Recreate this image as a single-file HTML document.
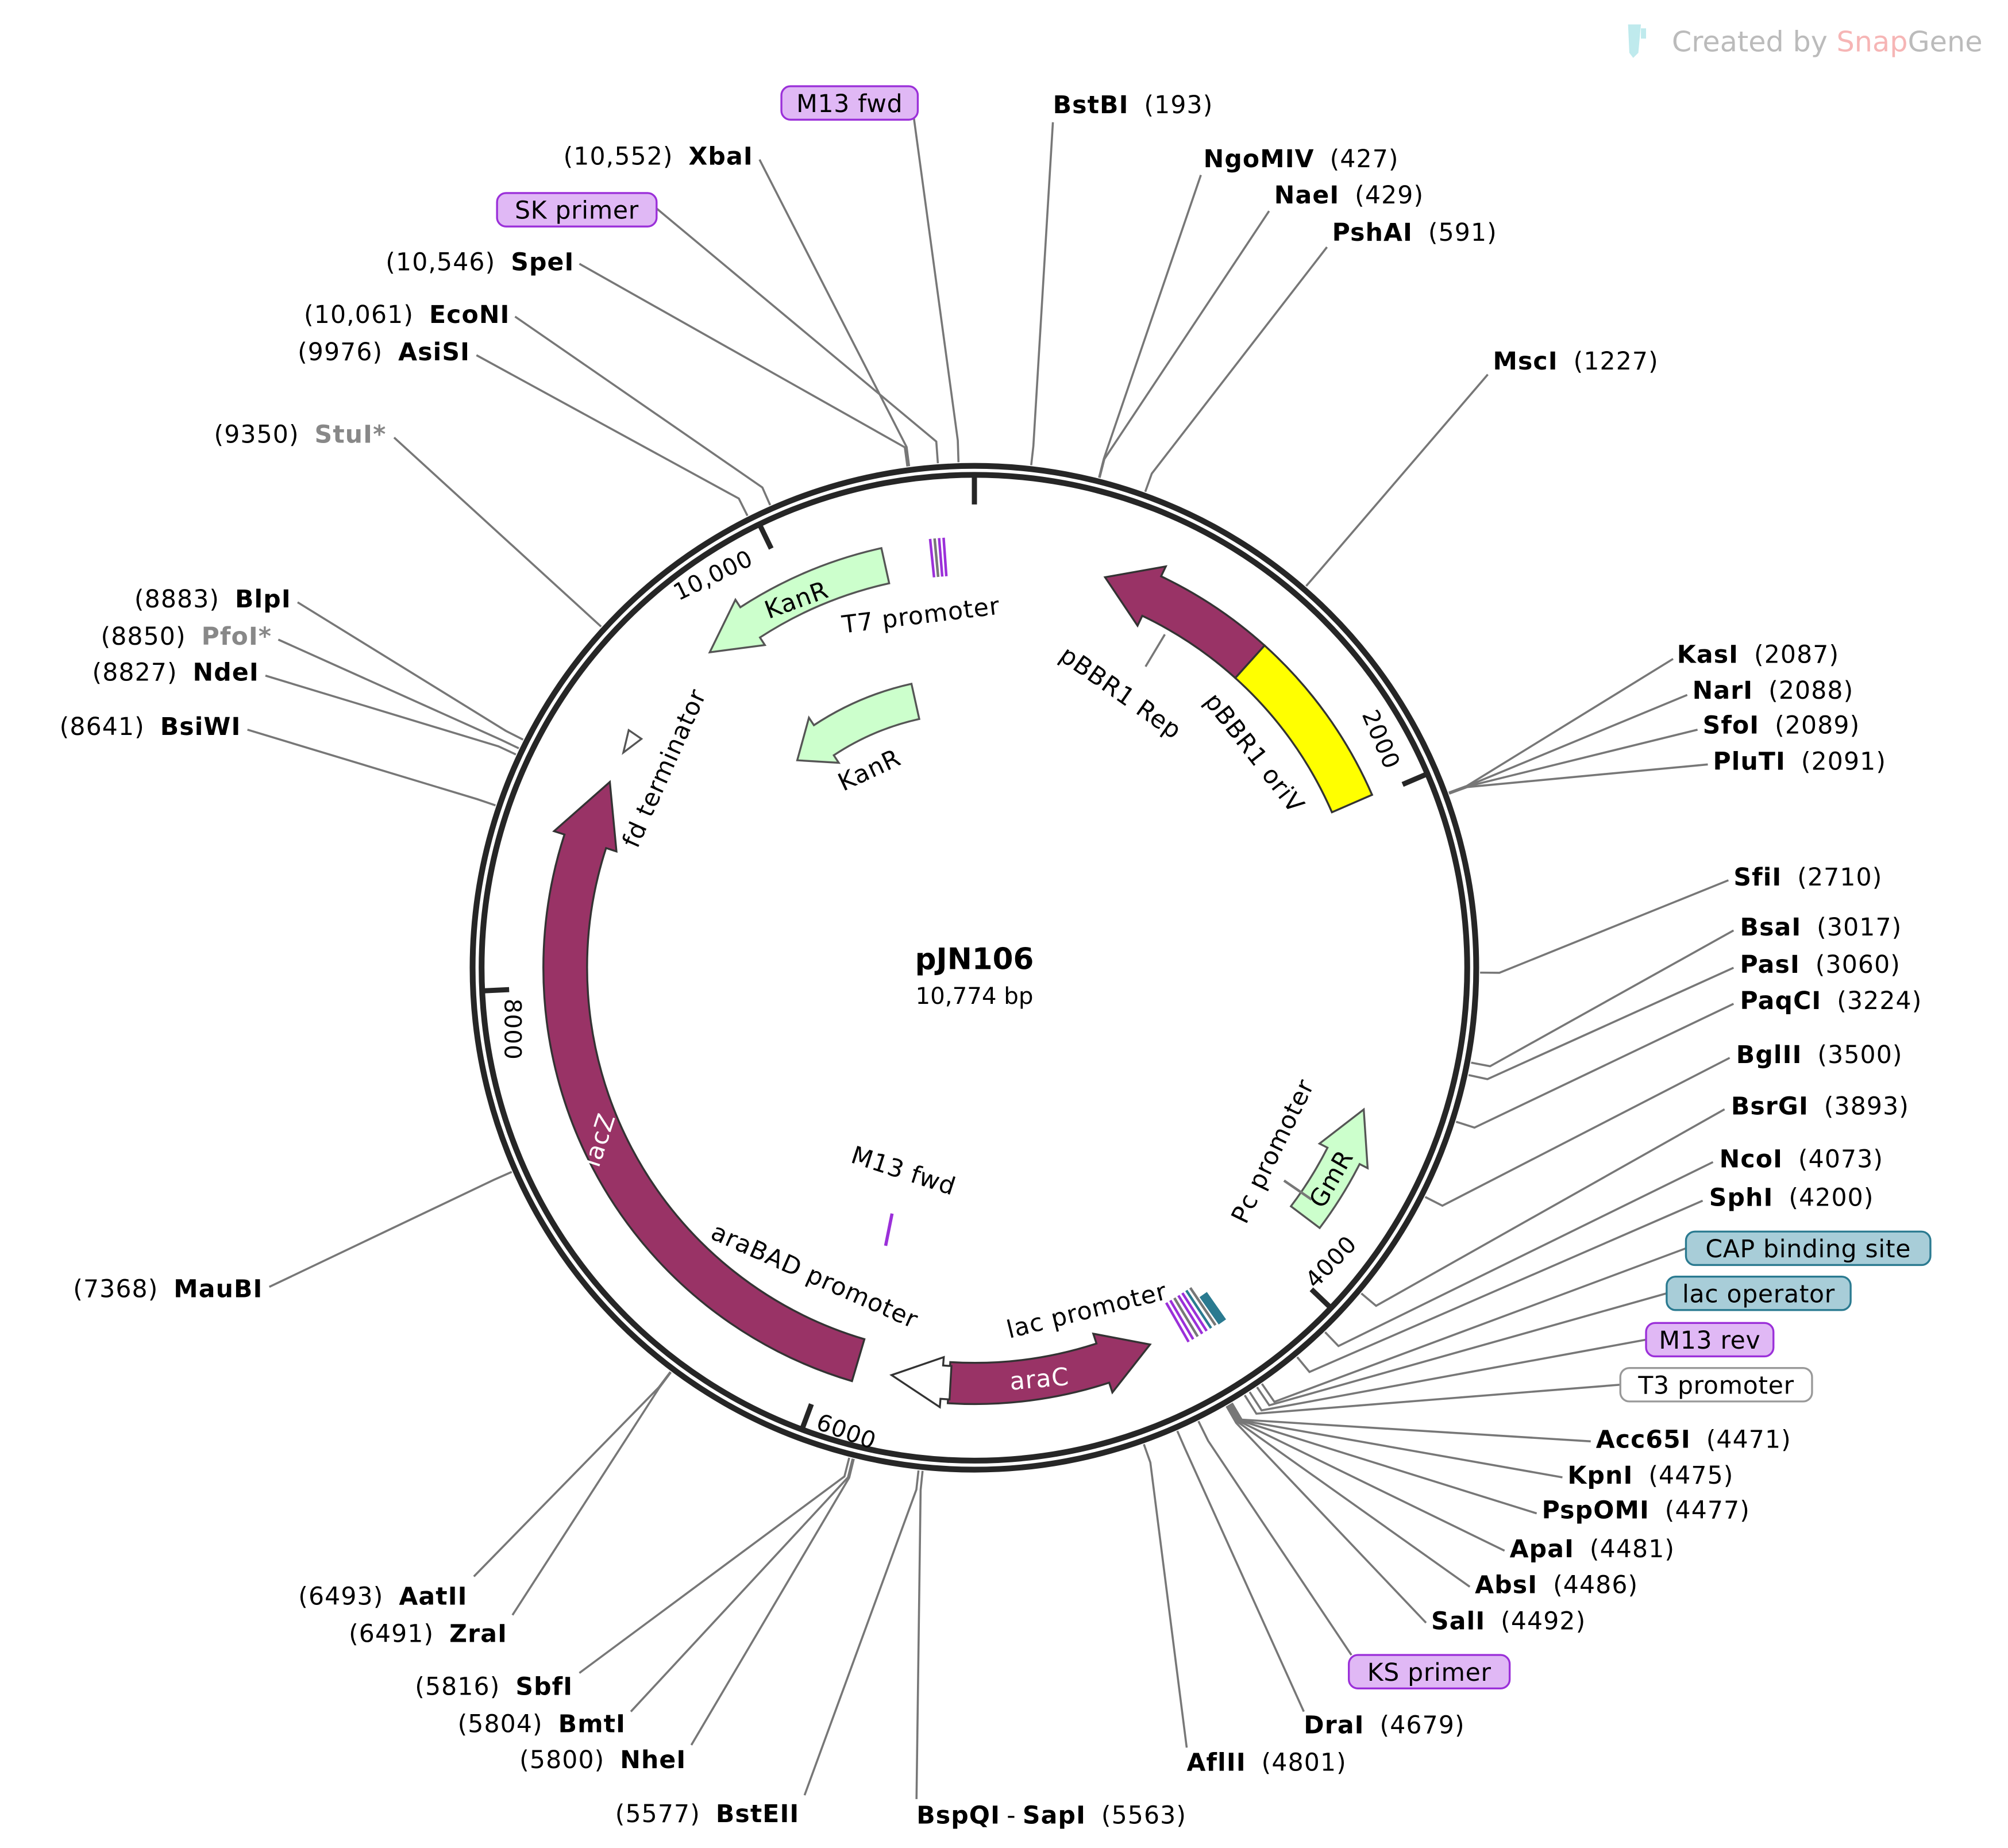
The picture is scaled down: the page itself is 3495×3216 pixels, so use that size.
<!DOCTYPE html>
<html><head><meta charset="utf-8">
<style>
html,body{margin:0;padding:0;background:#fff;}
svg{display:block;}
text{font-family:"DejaVu Sans","Liberation Sans",sans-serif;}
#txt text{letter-spacing:0.5px;}
</style></head>
<body>
<svg id="s" xmlns="http://www.w3.org/2000/svg" width="3495" height="3216" viewBox="0 0 1560 1436">
<rect width="1560" height="1436" fill="#fff"/>
<g id="lines" stroke="#777" stroke-width="1.6" fill="none"></g>
<circle cx="757" cy="752" r="390" fill="none" stroke="#262626" stroke-width="4.5"/>
<circle cx="757" cy="752" r="383" fill="none" stroke="#262626" stroke-width="4.5"/>
<g id="feat"></g>
<g id="txt" font-size="19" fill="#000"></g>
<text x="757" y="753" font-size="23" font-weight="bold" text-anchor="middle">pJN106</text>
<text x="757" y="780" font-size="18" text-anchor="middle">10,774 bp</text>
<g font-size="22" fill="#bbb">
<path d="M1265 19 h10 l-2 22 l-4 4 l-3-4z" fill="#bfeaed"/><rect x="1275" y="22" width="4" height="8" fill="#bfeaed"/>
<text x="1299" y="40">Created by <tspan fill="#f6b5b5">Snap</tspan>Gene</text>
</g>
</svg>
<script>
const NS="http://www.w3.org/2000/svg",CX=757,CY=752,L=10774;
function pt(bp,r){const a=bp/L*2*Math.PI;return [CX+r*Math.sin(a),CY-r*Math.cos(a)];}
function ptA(a,r){a=a*Math.PI/180;return [CX+r*Math.sin(a),CY-r*Math.cos(a)];}
function el(tag,at,parent,txt){const e=document.createElementNS(NS,tag);for(const k in at)e.setAttribute(k,at[k]);if(txt!==undefined)e.textContent=txt;document.getElementById(parent).appendChild(e);return e;}
const R=[
[193,818,95,'r','BstBI','(193)',818,88],
[427,933,136,'r','NgoMIV','(427)',935,130],
[429,986,164,'r','NaeI','(429)',990,158],
[591,1031,192,'r','PshAI','(591)',1035,187],
[1227,1156,291,'r','MscI','(1227)',1160,287],
[2087,1300,512,'r','KasI','(2087)',1303,515],
[2088,1311,540,'r','NarI','(2088)',1315,543],
[2089,1319,567,'r','SfoI','(2089)',1323,570],
[2091,1327,594,'r','PluTI','(2091)',1331,598],
[2710,1343,684,'r','SfiI','(2710)',1347,688],
[3017,1347,723,'r','BsaI','(3017)',1352,727],
[3060,1347,752,'r','PasI','(3060)',1352,756],
[3224,1347,780,'r','PaqCI','(3224)',1352,784],
[3500,1344,822,'r','BglII','(3500)',1349,826],
[3893,1340,862,'r','BsrGI','(3893)',1345,866],
[4073,1331,903,'r','NcoI','(4073)',1336,907],
[4200,1323,933,'r','SphI','(4200)',1328,937],
[4471,1236,1120,'r','Acc65I','(4471)',1240,1125],
[4475,1214,1148,'r','KpnI','(4475)',1218,1153],
[4477,1194,1176,'r','PspOMI','(4477)',1198,1180],
[4481,1169,1205,'r','ApaI','(4481)',1173,1210],
[4486,1142,1233,'r','AbsI','(4486)',1146,1238],
[4492,1108,1261,'r','SalI','(4492)',1112,1266],
[4679,1013,1330,'r','DraI','(4679)',1013,1347],
[4801,922,1358,'r','AflII','(4801)',922,1376],
[5563,712,1398,'r','BspQI - SapI','(5563)',712,1417],
[10552,590,124,'l','XbaI','(10,552)',585,128],
[10546,450,205,'l','SpeI','(10,546)',446,210],
[10061,400,246,'l','EcoNI','(10,061)',396,251],
[9976,370,276,'l','AsiSI','(9976)',365,280],
[9350,306,340,'l','StuI*','(9350)',300,344,1],
[8883,231,468,'l','BlpI','(8883)',226,472],
[8850,216,497,'l','PfoI*','(8850)',211,501,1],
[8827,206,525,'l','NdeI','(8827)',201,529],
[8641,192,567,'l','BsiWI','(8641)',187,571],
[7368,209,1000,'l','MauBI','(7368)',204,1008],
[6493,368,1225,'l','AatII','(6493)',363,1247],
[6491,398,1255,'l','ZraI','(6491)',394,1276],
[5816,450,1300,'l','SbfI','(5816)',445,1317],
[5804,490,1330,'l','BmtI','(5804)',486,1346],
[5800,537,1356,'l','NheI','(5800)',533,1374],
[5577,625,1395,'l','BstEII','(5577)',621,1416]
];
for(const e of R){
 const a=pt(e[0],393),b=pt(e[0],408);
 el('polyline',{points:`${a} ${b} ${e[1]},${e[2]}`},'lines');
 const col=e[8]?'#888':'#000';
 if(e[3]=='r'){
  const t=el('text',{x:e[6],y:e[7]},'txt');
  if(e[4]=='BspQI - SapI'){t.innerHTML='<tspan font-weight="bold">BspQI</tspan><tspan dx="5">-</tspan><tspan dx="5" font-weight="bold">SapI</tspan><tspan dx="12">'+e[5]+'</tspan>';}
  else t.innerHTML=`<tspan font-weight="bold" fill="${col}">${e[4]}</tspan><tspan dx="12">${e[5]}</tspan>`;
 } else {
  const t=el('text',{x:e[6],y:e[7],'text-anchor':'end'},'txt');
  t.innerHTML=`<tspan>${e[5]}</tspan><tspan dx="12" font-weight="bold" fill="${col}">${e[4]}</tspan>`;
 }
}
const B=[
[10650,'SK primer',386,150,124,'#e0b8f5','#9b30d9',510,162],
[10720,'M13 fwd',607,67,106,'#e0b8f5','#9b30d9',710,92],
[4350,'CAP binding site',1310,957,190,'#a8cdd8','#2a7a90',1310,970],
[4370,'lac operator',1295,992,143,'#a8cdd8','#2a7a90',1295,1005],
[4400,'M13 rev',1279,1028,99,'#e0b8f5','#9b30d9',1279,1041],
[4420,'T3 promoter',1259,1063,149,'#fff','#999',1259,1076],
[4600,'KS primer',1048,1286,125,'#e0b8f5','#9b30d9',1050,1286]
];
for(const b of B){
 const a=pt(b[0],393),c=pt(b[0],410);
 el('polyline',{points:`${a} ${c} ${b[7]},${b[8]}`},'lines');
 el('rect',{x:b[2],y:b[3],width:b[4],height:26,rx:7,fill:b[5],stroke:b[6],'stroke-width':1.5},'txt');
 el('text',{x:b[2]+b[4]/2,y:b[3]+20,'text-anchor':'middle',style:'letter-spacing:0.3px'},'txt',b[1]);
}
el('line',{x1:905,y1:493,x2:890,y2:518},'lines');
function arc(a1,a2,r,w,fill,stroke,head,hlen){
 const dir=a2>a1?1:-1, hl=head?Math.min(hlen||7,Math.abs(a2-a1)):0;
 const ab=a2-dir*hl, ro=r+w/2, ri=r-w/2, hw=w*0.75;
 const p=(a,rr)=>ptA(a,rr).join(',');
 const sw=dir>0?1:0, sw2=dir>0?0:1, lg=Math.abs(ab-a1)>180?1:0;
 let d=`M${p(a1,ro)} A${ro},${ro} 0 ${lg} ${sw} ${p(ab,ro)}`;
 if(head) d+=` L${p(ab,r+hw)} L${p(a2,r)} L${p(ab,r-hw)}`;
 d+=` L${p(ab,ri)} A${ri},${ri} 0 ${lg} ${sw2} ${p(a1,ri)} Z`;
 el('path',{d:d,fill:fill,stroke:stroke,'stroke-width':1.5},'feat');
}
arc(42,66.5,320,34,'#ffff00','#333',false);
arc(42,18.5,320,34,'#993366','#333',true);
arc(196.5,297,318,34,'#993366','#333',true,9);
arc(183.5,155,323,32,'#993366','#333',true);
arc(183.3,191.5,323,26,'#fff','#333',true);
arc(347.5,320,320,28,'#ccffcc','#555',true);
arc(347.5,319.5,212,28,'#ccffcc','#555',true);
arc(127,110,322,28,'#ccffcc','#555',true);
arc(304.5,301.5,320,8,'#fff','#555',true);
for(const bp of [0,2000,4000,6000,8000,10000]){
 const a=pt(bp,381),b=pt(bp,bp==0?360:362);
 el('line',{x1:a[0],y1:a[1],x2:b[0],y2:b[1],stroke:'#262626','stroke-width':4},'feat');
}
const TL=[['2000',1058,555,67],['4000',1022,1002,-46],['6000',633,1110,20],['8000',392,776,90],['10,000',527,467,-26]];
for(const t of TL) el('text',{x:t[1],y:t[2],'font-size':18,transform:`rotate(${t[3]} ${t[1]} ${t[2]})`},'txt',t[0]);
function mark(a,r1,r2,c,w){const p=ptA(a,r1),q=ptA(a,r2);el('line',{x1:p[0],y1:p[1],x2:q[0],y2:q[1],stroke:c,'stroke-width':w||2.5},'feat');}
[[-5.9,'#9b30d9'],[-5.3,'#777'],[-4.7,'#9b30d9'],[-4.1,'#9b30d9']].forEach(m=>mark(m[0],305,335,m[1],2));
[[150.2,'#9b30d9'],[149.5,'#9b30d9'],[148.8,'#777'],[148.1,'#9b30d9'],[147.4,'#9b30d9'],[146.7,'#2a7a90'],[146.0,'#777']].forEach(m=>mark(m[0],300,335,m[1],2));
mark(145,310,336,'#2a7a90',7);
mark(124.5,292,318,'#777',2);
el('line',{x1:693,y1:943,x2:688,y2:968,stroke:'#9b30d9','stroke-width':2.5},'feat');
const FT=[
['T7 promoter',655,492,-7,'#000'],['pBBR1 Rep',822,512,35,'#000'],['pBBR1 oriV',935,545,52,'#000'],
['fd terminator',495,660,-66,'#000'],['KanR',597,481,-20,'#000'],['KanR',655,615,-25,'#000'],
['lacZ',465,908,-72,'#fff'],['araBAD promoter',551,962,24,'#000'],['lac promoter',784,1040,-14,'#000'],
['araC',785,1080,-5,'#fff'],['M13 fwd',660,903,18,'#000'],['Pc promoter',968,952,-64,'#000'],['GmR',1028,940,-60,'#000']];
for(const f of FT) el('text',{x:f[1],y:f[2],fill:f[4],transform:`rotate(${f[3]} ${f[1]} ${f[2]})`},'txt',f[0]);
</script>
</body></html>
